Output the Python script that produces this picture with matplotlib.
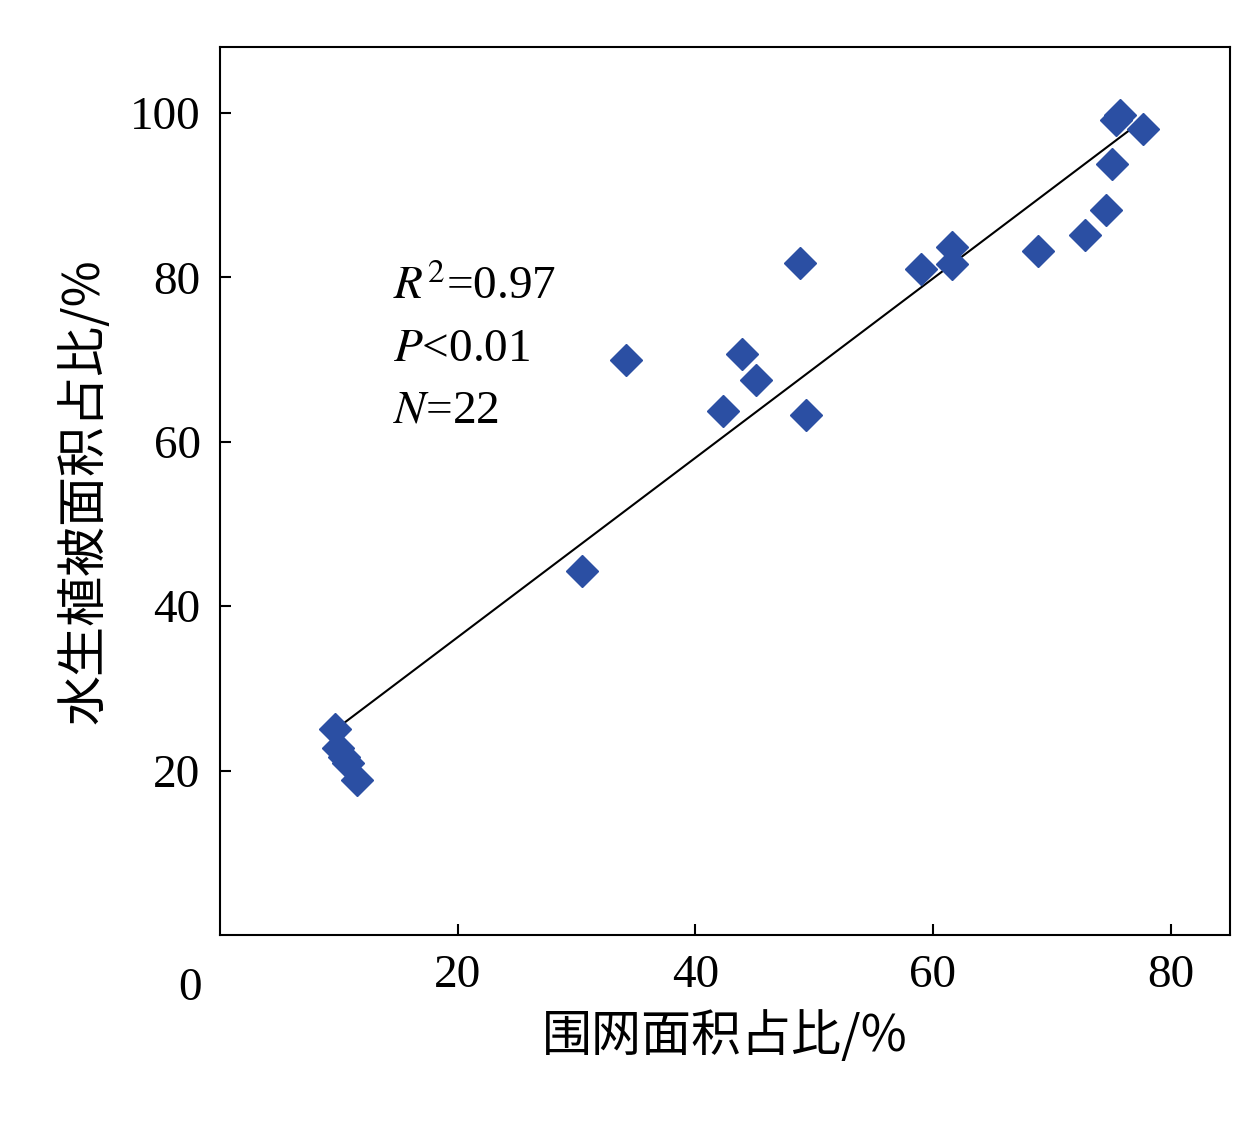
import matplotlib
matplotlib.use("Agg")
import matplotlib.pyplot as plt
import numpy as np

x_vals = [9.7, 9.9, 10.4, 10.8, 11.5, 30.5, 34.2, 42.3, 43.9, 45.1, 48.8, 49.3,
          59.0, 61.6, 61.6, 68.8, 72.8, 74.6, 75.1, 75.7, 75.4, 77.7]
y_vals = [25.0, 22.8, 21.7, 20.9, 18.8, 44.3, 69.9, 63.8, 70.7, 67.5, 81.8, 63.3,
          81.0, 83.7, 81.6, 83.2, 85.1, 88.2, 93.8, 99.8, 99.2, 98.0]
fit_slope, fit_intercept = 1.091, 14.4
xticks = [20, 40, 60, 80]
yticks = [20, 40, 60, 80, 100]

serif = "Liberation Serif"
cjk = ["Noto Sans CJK SC", "Noto Sans CJK JP", "Noto Sans CJK TC", "Noto Sans CJK KR", "DejaVu Sans"]

fig = plt.figure(figsize=(12.59, 11.23), dpi=100)
ax = fig.add_axes([0.1747, 0.1674, 0.8023, 0.7906])
x = np.array(x_vals); y = np.array(y_vals)
xl = np.array([x.min(), x.max()])
ax.plot(xl, fit_slope * xl + fit_intercept, color="black", lw=1.5, zorder=1)
ax.plot(x, y, linestyle="none", marker="D", ms=16, color="#2b4fa3", zorder=2)

ax.set_xlim(0, 85)
ax.set_ylim(0, 108)
ax.set_xticks(xticks)
ax.set_yticks(yticks)
ax.tick_params(direction="in", length=8, width=1.5, labelsize=34, pad=14)
for lab in ax.get_xticklabels() + ax.get_yticklabels():
    lab.set_fontfamily(serif)
for s in ax.spines.values():
    s.set_linewidth(1.5)
ax.text(-2.5, -4, "0", fontsize=34, family=serif, ha="center", va="top")

ax.set_xlabel("围网面积占比/%", fontsize=36, fontfamily=cjk, labelpad=10)
ax.set_ylabel("水生植被面积占比/%", fontsize=36, fontfamily=cjk, labelpad=14)

tk = dict(fontsize=34, family=serif, va="center", ha="left")
ax.text(14.6, 78.8, r"$\mathit{R}^{2}$=0.97", math_fontfamily="stix", **tk)
ax.text(14.6, 71.2, r"$\mathit{P}$<0.01", math_fontfamily="stix", **tk)
ax.text(14.6, 63.7, r"$\mathit{N}$=22", math_fontfamily="stix", **tk)

fig.savefig("out.png", dpi=100)
